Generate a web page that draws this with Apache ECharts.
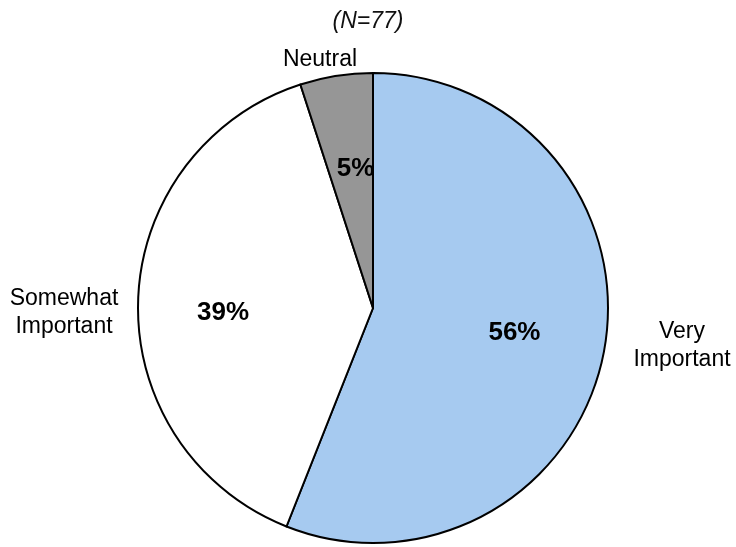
<!DOCTYPE html>
<html lang="en">
<head>
    <meta charset="UTF-8">
    <title>Importance</title>
    <script type="text/javascript" src="https://cdn.jsdelivr.net/npm/echarts@6/dist/echarts.min.js"></script>
    <style>
        html, body { margin: 0; padding: 0; background: #fff; }
    </style>
</head>
<body>
<div id="main" style="width:736px;height:547px;"></div>

<script type="text/javascript">
    // data
    var categories = ['Very\nImportant', 'Somewhat\nImportant', 'Neutral'];
    var values = [56, 39, 5];
    var colors = ['#A6CAF0', '#FFFFFF', '#969696'];

    // where the outside name labels sit
    var namePos = [[682, 346], [64, 313], [320, 60]];
    // small nudges for the percentage labels
    var pctNudge = [[0, -2], [-6, 9], [5, 3]];

    var pieData = [];
    for (var i = 0; i < categories.length; i++) {
        pieData.push({ name: categories[i], value: values[i], itemStyle: { color: colors[i] } });
    }

    var chart = echarts.init(document.getElementById('main'));

    var option = {
        animation: false,
        title: {
            text: '(N=77)',
            left: 'center',
            top: 5,
            textStyle: {
                fontFamily: 'Liberation Sans',
                fontStyle: 'italic',
                fontWeight: 'normal',
                fontSize: 23,
                color: '#111'
            }
        },
        series: [
            {
                type: 'pie',
                center: [373, 308],
                radius: 235,
                startAngle: 90,
                clockwise: true,
                avoidLabelOverlap: false,
                itemStyle: { borderColor: '#000', borderWidth: 2 },
                label: {
                    show: true,
                    position: 'outside',
                    formatter: '{b}',
                    fontFamily: 'Liberation Sans',
                    fontSize: 23,
                    lineHeight: 28,
                    color: '#000'
                },
                labelLine: { show: false },
                labelLayout: function (params) {
                    var p = namePos[params.dataIndex];
                    return { x: p[0], y: p[1], align: 'center', verticalAlign: 'middle' };
                },
                emphasis: { disabled: true },
                data: pieData
            },
            {
                // percentage labels only, slightly further out than the default inside spot
                type: 'pie',
                center: [373, 308],
                radius: [0, 282],
                startAngle: 90,
                clockwise: true,
                silent: true,
                itemStyle: { color: 'rgba(0,0,0,0)', borderWidth: 0 },
                label: {
                    show: true,
                    position: 'inside',
                    formatter: '{d}%',
                    fontFamily: 'Liberation Sans',
                    fontWeight: 'bold',
                    fontSize: 26,
                    color: '#000'
                },
                labelLine: { show: false },
                labelLayout: function (params) {
                    var n = pctNudge[params.dataIndex];
                    return { dx: n[0], dy: n[1] };
                },
                emphasis: { disabled: true },
                data: values.map(function (v, i) { return { name: categories[i], value: v }; })
            }
        ]
    };

    chart.setOption(option);
</script>
</body>
</html>
